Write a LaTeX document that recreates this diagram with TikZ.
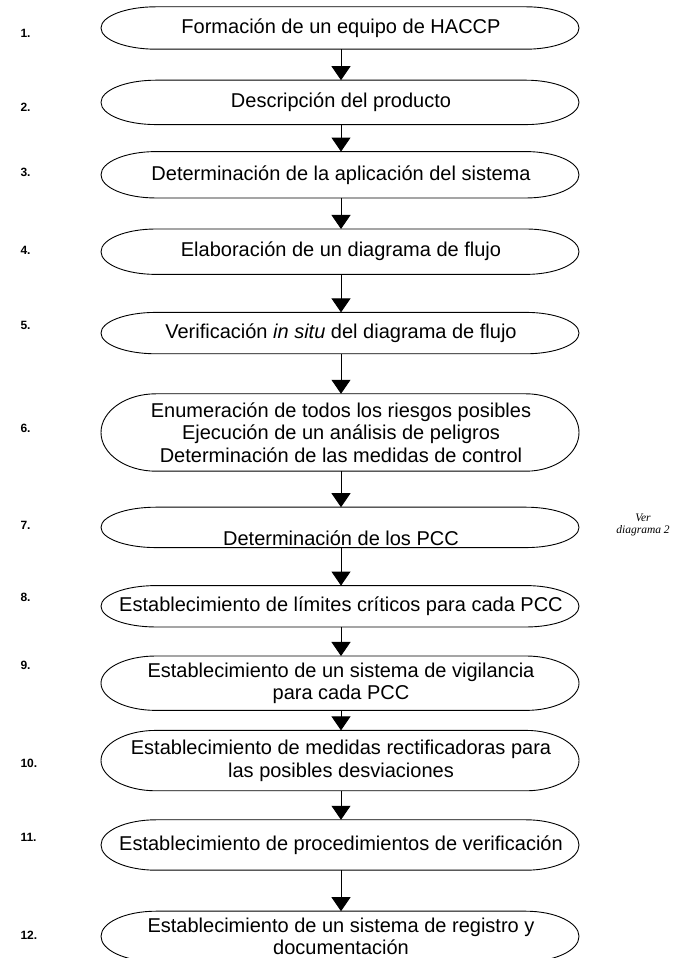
\documentclass[tikz,border=0pt]{standalone}
\usepackage{fontspec}
\setmainfont{Liberation Sans}
\newfontfamily\notafont{Liberation Serif}
\usepackage{tikz}
\usetikzlibrary{positioning, arrows.meta, calc}

\begin{document}
\begin{tikzpicture}[
    paso/.style={align=center, inner sep=2pt, font=\fontsize{20}{22.5}\selectfont},
    borde/.style={line width=0.9pt},
    flecha/.style={-{Triangle[width=19pt,length=14pt]}, line width=0.9pt},
    num/.style={anchor=west, font=\fontsize{12}{14}\selectfont\bfseries},
    nota/.style={align=center, inner sep=1pt, font=\notafont\itshape\fontsize{11.5}{11.5}\selectfont}]
        \useasboundingbox (0,0) rectangle (677pt,958pt);

        \node[paso, minimum height=42pt] (p1) at (341pt,930pt) {Formación de un equipo de HACCP};
        \node[paso, minimum height=44pt, below=31pt of p1] (p2) {Descripción del producto};
        \node[paso, minimum height=46pt, below=27pt of p2] (p3) {Determinación de la aplicación del sistema};
        \node[paso, minimum height=45pt, below=31pt of p3] (p4) {Elaboración de un diagrama de flujo};
        \node[paso, minimum height=41pt, below=38pt of p4] (p5) {Verificación \textit{in situ} del diagrama de flujo};
        \node[paso, minimum height=77pt, below=40pt of p5] (p6) {Enumeración de todos los riesgos posibles\\
          Ejecución de un análisis de peligros\\
          Determinación de las medidas de control};
        \node[paso, minimum height=40pt, inner ysep=1pt, text height=36pt, text depth=0pt,
          below=36pt of p6] (p7) {Determinación de los PCC};
        \node[paso, minimum height=41pt, below=38pt of p7] (p8) {Establecimiento de límites críticos para cada PCC};
        \node[paso, minimum height=54pt, below=29pt of p8] (p9) {Establecimiento de un sistema de vigilancia\\
          para cada PCC};
        \node[paso, minimum height=60pt, below=20pt of p9] (p10) {Establecimiento de medidas rectificadoras para\\
          las posibles desviaciones};
        \node[paso, minimum height=50pt, below=29pt of p10] (p11) {Establecimiento de procedimientos de verificación};
        \node[paso, minimum height=50pt, below=41pt of p11] (p12) {Establecimiento de un sistema de registro y\\
          documentación};

        % contornos
        \foreach \i in {1,...,12} {
          \draw[borde] let \p1 = ($(p\i.north)-(p\i.south)$) in
            ($(p\i.north)+(-185pt,0)$) -- ++(370pt,0)
            arc[start angle=90, end angle=-90, x radius=53pt, y radius=0.5*\y1]
            -- ++(-370pt,0)
            arc[start angle=270, end angle=90, x radius=55pt, y radius=0.5*\y1];
        }

        % numeros
        \foreach \i/\y in {1/925, 2/851, 3/786, 4/708, 5/633, 6/530, 7/433, 8/361,
                           9/293, 10/195, 11/121, 12/23}
          \node[num] (n\i) at (17pt,\y pt) {\i.};

        \node[nota] (ver) at (643pt,433pt) {Ver\\diagrama 2};

        \path[flecha]
          (p1) edge (p2)
          (p2) edge (p3)
          (p3) edge (p4)
          (p4) edge (p5)
          (p5) edge (p6)
          (p6) edge (p7)
          (p7) edge (p8)
          (p8) edge (p9)
          (p9) edge (p10)
          (p10) edge (p11)
          (p11) edge (p12);
\end{tikzpicture}
\end{document}
